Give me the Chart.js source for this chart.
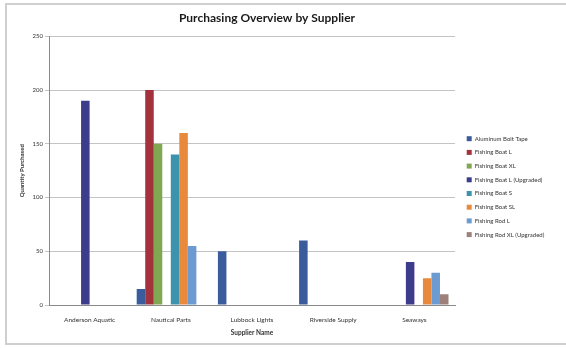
<!DOCTYPE html>
<html>
<head>
<meta charset="utf-8">
<script src="https://cdn.jsdelivr.net/npm/chart.js@4/dist/chart.umd.min.js"></script>
<style>
  html, body { margin: 0; padding: 0; background: #ffffff; }
  #wrap { position: relative; width: 566px; height: 348px; overflow: hidden; }
  #frame { position: absolute; left: 5px; top: 3px; width: 570px; height: 342px;
           border: 2px solid #cfcfcf; box-sizing: border-box; }
  canvas { position: absolute; left: 0; top: 0; }
</style>
</head>
<body>
<div id="wrap">
  <div id="frame"></div>
  <canvas id="c" width="566" height="348"></canvas>
</div>
<script>
const categories = ["Anderson Aquatic", "Nautical Parts", "Lubbock Lights", "Riverside Supply", "Seaways"];
const seriesNames = [
  "Aluminum Bolt Tape",
  "Fishing Boat L",
  "Fishing Boat XL",
  "Fishing Boat L (Upgraded)",
  "Fishing Boat S",
  "Fishing Boat SL",
  "Fishing Rod L",
  "Fishing Rod XL (Upgraded)"
];
const s1 = [0, 15, 50, 60, 0];
const s2 = [0, 200, 0, 0, 0];
const s3 = [0, 150, 0, 0, 0];
const s4 = [190, 0, 0, 0, 40];
const s5 = [0, 140, 0, 0, 0];
const s6 = [0, 160, 0, 0, 25];
const s7 = [0, 55, 0, 0, 30];
const s8 = [0, 0, 0, 0, 10];
const seriesValues = [s1, s2, s3, s4, s5, s6, s7, s8];
const seriesColors = ["#3a5c9c", "#a3323c", "#80a751", "#3d3b8c", "#3c93ad", "#e8893c", "#6b9bd0", "#9c8079"];
const yTicks = [0, 50, 100, 150, 200, 250];

const FONT = "Lato, 'Liberation Sans', sans-serif";

const boxPlacer = {
  id: 'boxPlacer',
  afterLayout(chart) {
    const lg = chart.legend;
    if (lg) {
      lg.left = 459; lg.top = 128;
      lg.right = lg.left + 106; lg.bottom = lg.top + 125;
      lg.width = 106; lg.height = 125;
    }
    const t = chart.titleBlock;
    if (t) {
      t.left = 10; t.right = 524; t.width = 514;
    }
  }
};

new Chart(document.getElementById('c'), {
  type: 'bar',
  data: {
    labels: categories,
    datasets: seriesValues.map((v, i) => ({
      label: seriesNames[i],
      data: v,
      backgroundColor: seriesColors[i],
      borderWidth: 0,
      categoryPercentage: 0.84,
      barPercentage: 1.0
    }))
  },
  options: {
    responsive: false,
    animation: false,
    devicePixelRatio: 1,
    layout: { padding: { left: 6, top: 8, right: 111, bottom: 0 } },
    plugins: {
      title: {
        display: true,
        text: "Purchasing Overview by Supplier",
        color: '#1a1a1a',
        font: { family: FONT, size: 12, weight: 'bold' },
        padding: { top: 3, bottom: 11 }
      },
      legend: {
        position: 'chartArea',
        align: 'start',
        labels: {
          boxWidth: 5, boxHeight: 5,
          padding: 7.7,
          color: '#333',
          font: { family: FONT, size: 6 }
        }
      },
      tooltip: { enabled: false }
    },
    scales: {
      x: {
        grid: { display: false },
        border: { display: true, color: '#8a8a8a', width: 1 },
        ticks: { color: '#333', font: { family: FONT, size: 6.5 }, padding: 3, maxRotation: 0 },
        title: { display: true, text: "Supplier Name", color: '#333',
                 font: { family: FONT, size: 6.5, weight: 'bold' }, padding: { top: 0, bottom: 11 } },
        afterFit(s) { s.height = 43; }
      },
      y: {
        min: 0, max: 250,
        afterBuildTicks(s) { s.ticks = yTicks.map(v => ({ value: v })); },
        grid: { color: '#c4c4c4', lineWidth: 1, tickLength: 4, drawTicks: true },
        border: { display: true, color: '#8a8a8a', width: 1 },
        ticks: { color: '#333', font: { family: FONT, size: 6 }, padding: 2 },
        title: { display: true, text: "Quantity Purchased", color: '#333',
                 font: { family: FONT, size: 6, weight: 'bold' }, padding: { top: 12, bottom: 0 } },
        afterFit(s) { s.width = 43; }
      }
    }
  },
  plugins: [boxPlacer]
});
</script>
</body>
</html>
